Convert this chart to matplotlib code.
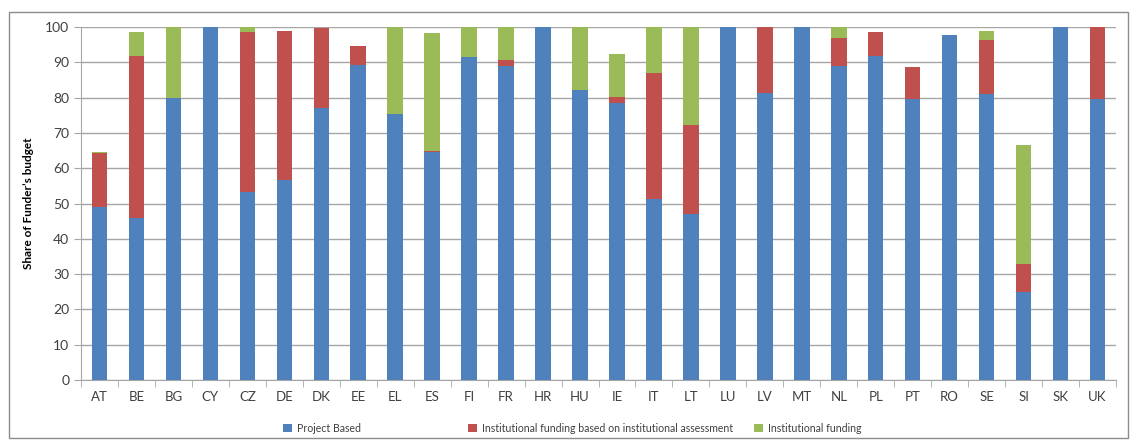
import numpy as np
import matplotlib
matplotlib.use("Agg")
from matplotlib import pyplot as plt
from matplotlib.patches import Rectangle

# countries and shares of funder's budget (%)
countries = ["AT", "BE", "BG", "CY", "CZ", "DE", "DK", "EE", "EL", "ES", "FI", "FR", "HR", "HU", "IE",
             "IT", "LT", "LU", "LV", "MT", "NL", "PL", "PT", "RO", "SE", "SI", "SK", "UK"]
project_based = [49.1, 45.8, 80.0, 100.0, 53.2, 56.7, 77.0, 89.2, 75.3, 64.7, 91.4, 89.0, 100.0, 82.2, 78.6,
                 51.3, 47.0, 100.0, 81.4, 100.0, 89.0, 91.9, 79.6, 97.8, 81.1, 24.8, 100.0, 79.6]
inst_assessment = [15.1, 46.1, 0.0, 0.0, 45.3, 42.3, 22.6, 5.5, 0.0, 0.3, 0.0, 1.7, 0.0, 0.0, 1.7,
                   35.6, 25.1, 0.0, 18.6, 0.0, 7.9, 6.6, 9.2, 0.0, 15.3, 8.0, 0.0, 20.4]
inst_funding = [0.4, 6.8, 20.0, 0.0, 1.5, 0.0, 0.0, 0.0, 24.7, 33.2, 8.6, 9.3, 0.0, 17.8, 12.1,
                13.1, 27.9, 0.0, 0.0, 0.0, 3.1, 0.0, 0.0, 0.0, 2.6, 33.7, 0.0, 0.0]

plt.rcParams['font.family'] = ['Lato', 'DejaVu Sans']

W, H = 1132, 441
fig = plt.figure(figsize=(W / 100, H / 100), dpi=100)
ax = fig.add_axes([81 / W, 1 - 380 / H, (1116 - 81) / W, (380 - 27) / H])

x = np.arange(len(countries))
w = 0.42
blue, red, green = "#4F81BD", "#C0504D", "#9BBB59"
pb = np.array(project_based)
ia = np.array(inst_assessment)
inf = np.array(inst_funding)
ax.bar(x, pb, w, color=blue, label="Project Based", zorder=3)
ax.bar(x, ia, w, bottom=pb, color=red, label="Institutional funding based on institutional assessment", zorder=3)
ax.bar(x, inf, w, bottom=pb + ia, color=green, label="Institutional funding", zorder=3)

ax.set_xlim(-0.5, len(countries) - 0.5)
ax.set_ylim(0, 100)
ax.set_yticks(range(0, 101, 10))
ax.yaxis.grid(True, color="#A6A6A6", linewidth=1, zorder=0)
ax.set_xticks(x)
ax.set_xticklabels(countries, fontsize=9.5, color="#404040")
ax.set_xticks(np.arange(-0.5, len(countries), 1), minor=True)
ax.tick_params(axis="x", which="major", length=0, pad=8)
ax.tick_params(axis="x", which="minor", length=5, color="#A6A6A6", direction="out")
ax.tick_params(axis="y", length=5, color="#A6A6A6", labelsize=10, labelcolor="#404040")
for s in ["top", "right"]:
    ax.spines[s].set_visible(False)
for s in ["left", "bottom"]:
    ax.spines[s].set_color("#A6A6A6")
ax.set_ylabel("Share of Funder\u2019s budget", fontsize=8.5, fontweight="bold", labelpad=8)

# legend entries placed like the original (Excel spacing)
handles, labels = ax.get_legend_handles_labels()
for h, l, xpos in zip(handles, labels, [283, 468, 754]):
    leg = fig.legend([h], [l], loc="center left", bbox_to_anchor=(xpos / W, 1 - 428 / H), frameon=False,
                     fontsize=7.6, handlelength=0.85, handleheight=0.85, handletextpad=0.5,
                     borderpad=0, borderaxespad=0, labelcolor="#404040")

fig.patches.append(Rectangle((9 / W, 3 / H), 1119 / W, 426 / H, transform=fig.transFigure,
                             fill=False, edgecolor="#8C8C8C", linewidth=1))

fig.savefig("out.png", dpi=100)
